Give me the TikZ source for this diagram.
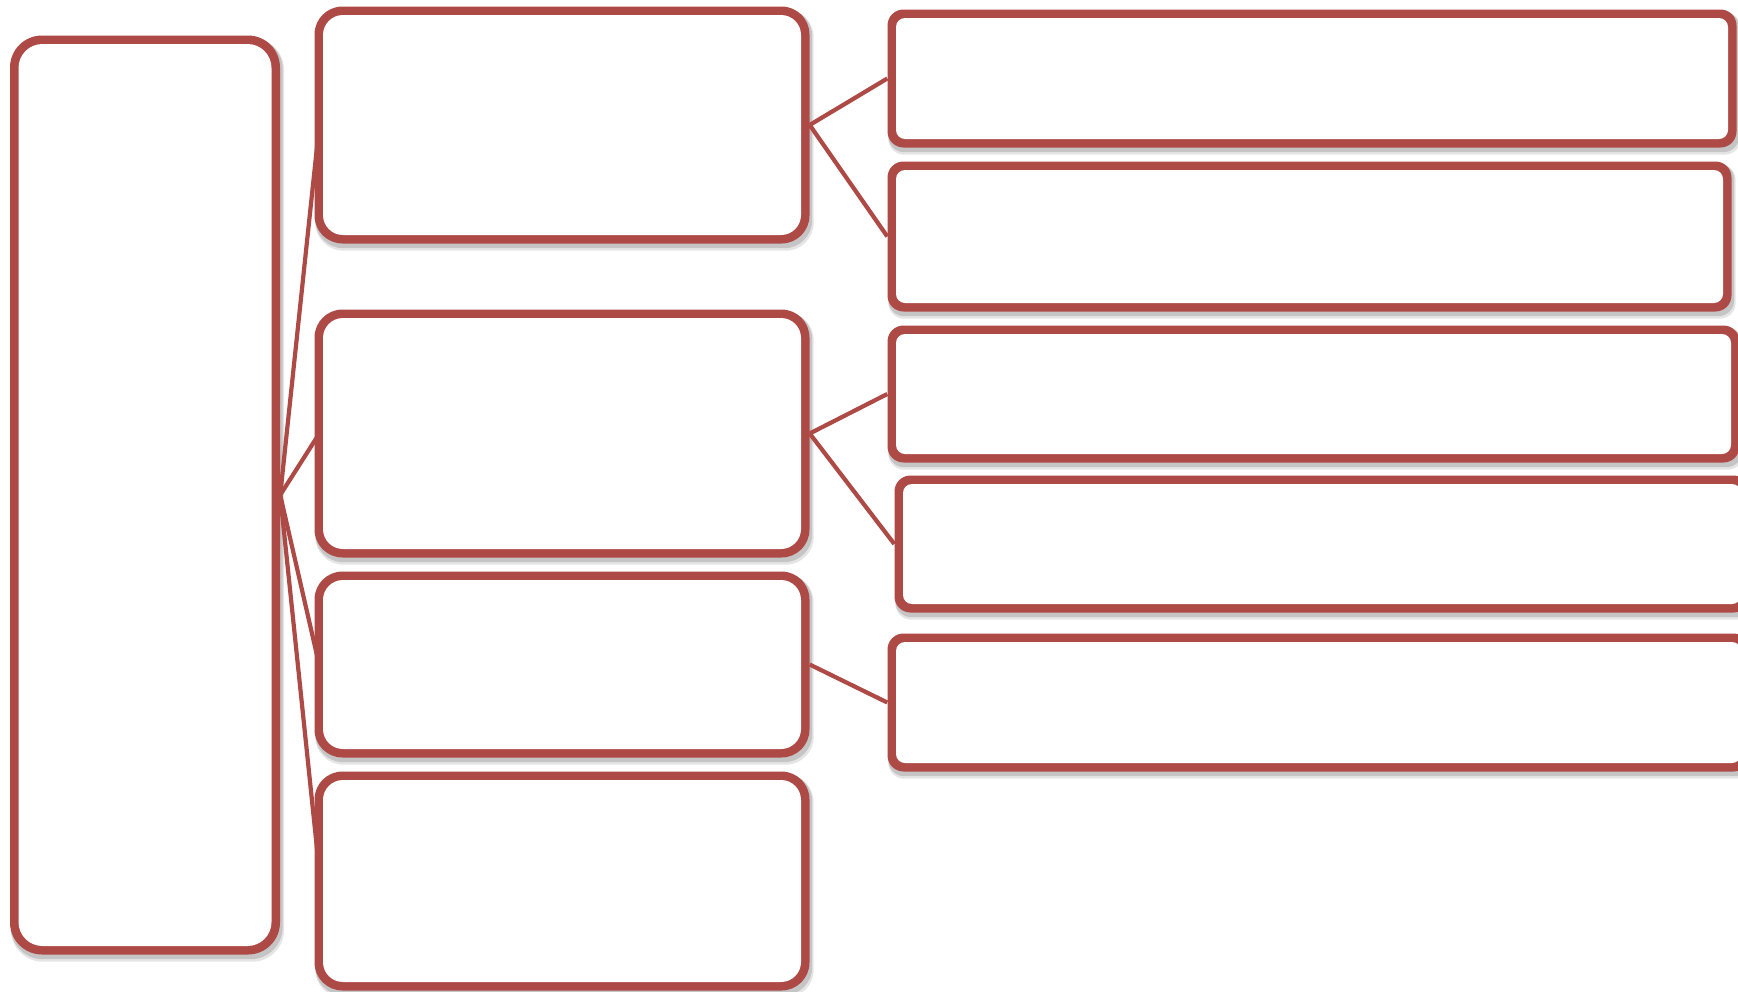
\documentclass[tikz,border=0pt]{standalone}
\usetikzlibrary{backgrounds}
\definecolor{boxred}{RGB}{174,74,70}
\begin{document}
\begin{tikzpicture}[x=1pt,y=-1pt,
  % a card is a red rounded plate with a white rounded face inset by the rim width
  card/.style 2 args={rectangle, inner sep=0pt, fill=boxred, rounded corners=#1,
    path picture={\fill[white, rounded corners=#2]
      ([shift={(8.5,8.5)}]path picture bounding box.north west) rectangle
      ([shift={(-8.5,-8.5)}]path picture bounding box.south east);}},
  rootbox/.style={card={32pt}{24pt}},
  midbox/.style={card={28pt}{20pt}},
  leafbox/.style={card={16pt}{9pt}},
  link/.style={draw=boxred, line width=4.2pt},
  shade/.style={fill=black, opacity=#1},
  shade/.default=0.1]
\useasboundingbox (0,0) rectangle (1738,991);

% free ends of the links on the left sides of the second-level boxes
\coordinate (a-in) at (319,128);
\coordinate (b-in) at (319,434);
\coordinate (c-in) at (319,664);
\coordinate (d-in) at (319,868);

% root column
\node[rootbox, minimum width=270pt, minimum height=919pt] (root) at (145,495) {};

% second level
\node[midbox, minimum width=495pt, minimum height=237pt] (a) at (562,125) {};
\node[midbox, minimum width=495pt, minimum height=248pt] (b) at (562,433.5) {};
\node[midbox, minimum width=495pt, minimum height=186pt] (c) at (562,664.5) {};
\node[midbox, minimum width=495pt, minimum height=219pt] (d) at (562,881) {};

% third level
\node[leafbox, minimum width=849pt, minimum height=138pt] (a1) at (1312,78.5) {};
\node[leafbox, minimum width=844pt, minimum height=150pt] (a2) at (1309.5,236.5) {};
\node[leafbox, minimum width=852pt, minimum height=137pt] (b1) at (1313.5,394) {};
\node[leafbox, minimum width=855pt, minimum height=137pt] (b2) at (1322,544) {};
\node[leafbox, minimum width=862pt, minimum height=138pt] (c1) at (1318.5,702.5) {};

% soft drop shadows under every box
\begin{scope}[on background layer]
  \foreach \n/\r in {root/32, a/28, b/28, c/28, d/28, a1/16, a2/16, b1/16, b2/16, c1/16} {
    \fill[shade=0.10, rounded corners=\r pt]
      ([shift={(1,3)}]\n.north west) rectangle ([shift={(4,7)}]\n.south east);
    \fill[shade=0.14, rounded corners=\r pt]
      ([shift={(1,2)}]\n.north west) rectangle ([shift={(2.5,4.5)}]\n.south east);
  }
\end{scope}

% links from the root column to the second level
\draw[link] (root.east) -- (a-in);
\draw[link] (root.east) -- (b-in);
\draw[link] (root.east) -- (c-in);
\draw[link] (root.east) -- (d-in);

% links from the second level to the third level
\draw[link] (a.east) -- (a1.west);
\draw[link] (a.east) -- (a2.west);
\draw[link] (b.east) -- (b1.west);
\draw[link] (b.east) -- (b2.west);
\draw[link] (c.east) -- (c1.west);
\end{tikzpicture}
\end{document}
